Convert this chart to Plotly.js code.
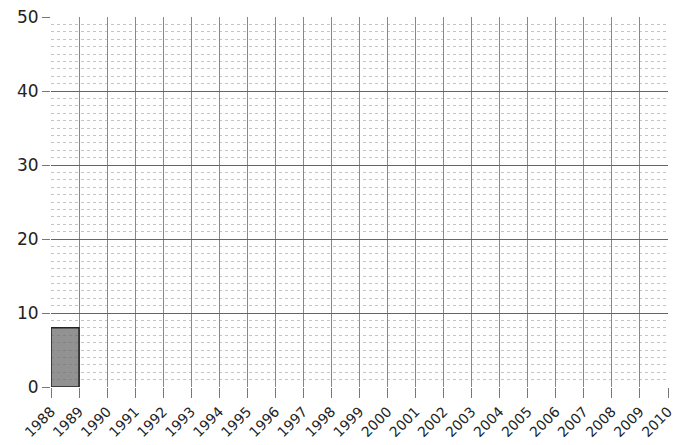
<!DOCTYPE html>
<html><head><meta charset="utf-8">
<script src="https://cdn.plot.ly/plotly-3.0.1.min.js"></script>
<style>html,body{margin:0;padding:0;background:#fff;}#c{width:682px;height:445px;}</style>
</head><body><div id="c"></div>
<script>
const years = [1988,1989,1990,1991,1992,1993,1994,1995,1996,1997,1998,1999,2000,2001,2002,2003,2004,2005,2006,2007,2008,2009,2010];
const yearLabels = years.map(String);
const barStart = [1988];
const barValues = [8];
const yTicks = [0,10,20,30,40,50];

const trace = {
  type: 'bar',
  x: barStart.map(v => v + 0.5),
  y: barValues,
  width: [1],
  marker: {color: 'rgba(110,110,110,0.75)', line: {color: '#222', width: 1.5}},
  hoverinfo: 'skip'
};

const layout = {
  width: 682, height: 445,
  margin: {l: 51, r: 14, t: 17, b: 58},
  paper_bgcolor: '#fff', plot_bgcolor: '#fff',
  showlegend: false,
  bargap: 0,
  font: {family: 'DejaVu Sans', color: '#222'},
  xaxis: {
    range: [1988, 2010],
    tickmode: 'array', tickvals: years, ticktext: yearLabels,
    tickangle: -45,
    tickfont: {size: 14, color: '#222'},
    ticks: 'outside', ticklen: 10, tickcolor: '#777', tickwidth: 1,
    showgrid: true, gridcolor: '#888', gridwidth: 1,
    zeroline: false, showline: false
  },
  yaxis: {
    range: [0, 50],
    tickmode: 'array', tickvals: yTicks,
    tickfont: {size: 17, color: '#222'},
    ticks: 'outside', ticklen: 8, tickcolor: '#777',
    showgrid: true, gridcolor: '#666', gridwidth: 1,
    zeroline: false, showline: false,
    minor: {dtick: 1, showgrid: true, gridcolor: '#c4c4c4', gridwidth: 1, griddash: 'dot', ticks: ''}
  }
};

Plotly.newPlot('c', [trace], layout, {staticPlot: true});
</script></body></html>
